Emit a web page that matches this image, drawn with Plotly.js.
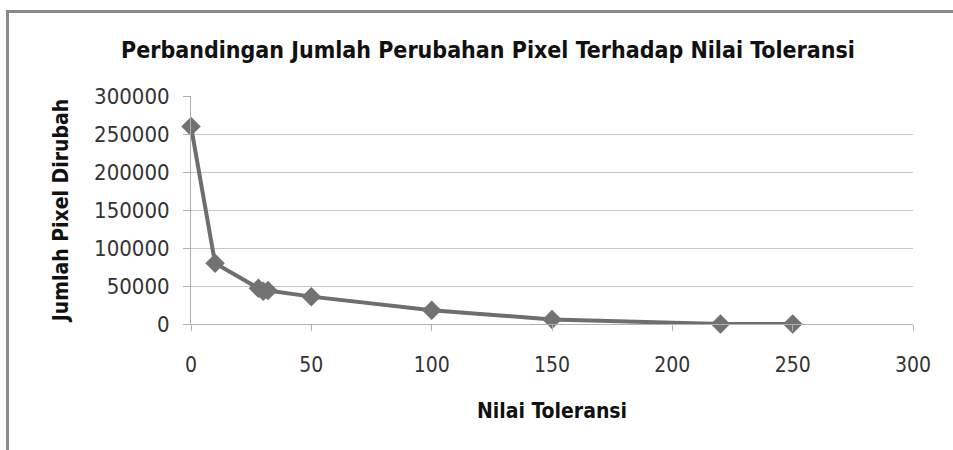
<!DOCTYPE html>
<html><head><meta charset="utf-8">
<script src="https://cdn.plot.ly/plotly-3.0.1.min.js"></script>
<style>html,body{margin:0;padding:0;background:#fff;overflow:hidden;}#wrap{position:relative;width:953px;height:450px;overflow:hidden;}
#frame{position:absolute;left:6px;top:10px;width:1200px;height:600px;border:3px solid #8a8a8a;box-sizing:border-box;pointer-events:none;}
#c{position:absolute;left:0;top:0;width:953px;height:450px;}</style>
</head><body><div id="wrap"><div id="c"></div><div id="frame"></div></div>
<script>
var tolerance = [0, 10, 28, 30, 32, 50, 100, 150, 220, 250];
var changedPixels = [260000, 80000, 47000, 43000, 44000, 36000, 18000, 6000, 0, 0];
var titleText = 'Perbandingan Jumlah Perubahan Pixel Terhadap Nilai Toleransi';
var xTitle = 'Nilai Toleransi';
var yTitle = 'Jumlah Pixel Dirubah';
var FONT = '"DejaVu Sans Condensed", "DejaVu Sans", sans-serif';

var trace = {
  x: tolerance, y: changedPixels, type: 'scatter', mode: 'lines+markers',
  line: {color: '#6e6e6e', width: 4},
  marker: {symbol: 'diamond', size: 15, color: '#727272'},
  cliponaxis: false
};
var layout = {
  width: 953, height: 450,
  margin: {l: 191, r: 40, t: 96, b: 126},
  paper_bgcolor: 'rgba(0,0,0,0)', plot_bgcolor: 'rgba(0,0,0,0)',
  showlegend: false,
  font: {family: FONT, size: 22, color: '#333'},
  title: {text: '<b>' + titleText + '</b>', x: 0.512, xanchor: 'center', y: 0.89, yanchor: 'middle',
          font: {family: FONT, size: 23, color: '#111'}},
  xaxis: {range: [0, 300], dtick: 50, tick0: 0, showgrid: false, zeroline: false,
          showline: true, linecolor: '#b0b0b0', linewidth: 1, ticks: 'outside', ticklen: 6, tickcolor: '#b0b0b0',
          ticklabelstandoff: 16, tickfont: {size: 21, color: '#333'},
          title: {text: '<b>' + xTitle + '</b>', standoff: 27, font: {family: FONT, size: 21, color: '#111'}}},
  yaxis: {range: [0, 300000], dtick: 50000, tick0: 0, showgrid: true, gridcolor: '#c8c8c8', gridwidth: 1,
          zeroline: false, showline: true, linecolor: '#b0b0b0', linewidth: 1, ticks: 'outside', ticklen: 7, tickcolor: '#b0b0b0',
          tickformat: 'd', ticklabelstandoff: 9, tickfont: {size: 22, color: '#333'},
          title: {text: '<b>' + yTitle + '</b>', standoff: 19, font: {family: FONT, size: 21, color: '#111'}}}
};
Plotly.newPlot('c', [trace], layout, {displayModeBar: false, staticPlot: true});
</script></body></html>
